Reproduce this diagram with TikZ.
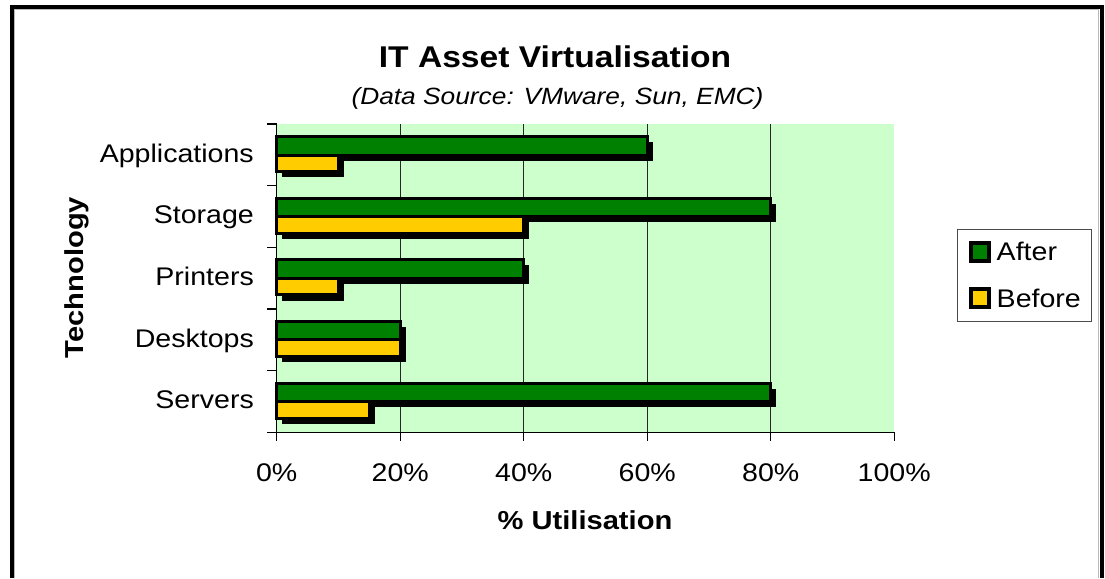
\documentclass[tikz,border=0pt]{standalone}
\usepackage{fontspec}
\setmainfont{Liberation Sans}[FakeStretch=1.12]
\definecolor{afterc}{RGB}{0,128,0}
\definecolor{beforec}{RGB}{255,204,0}
\definecolor{plotbg}{RGB}{204,255,204}
\tikzset{
  afterbar/.style={fill=afterc, draw=black, line width=3pt},
  beforebar/.style={fill=beforec, draw=black, line width=3pt},
  barshadow/.style={fill=black},
  gridline/.style={draw=black!85, line width=1.1pt},
  axisline/.style={draw=black, line width=1.3pt},
  ticklab/.style={inner sep=0pt, font=\fontsize{25.5}{30}\selectfont},
  catlab/.style={inner sep=0pt, anchor=base east, font=\fontsize{25.5}{30}\selectfont},
  axtitle/.style={inner sep=0pt, font=\bfseries\fontsize{26}{30}\selectfont},
  legsq/.style={line width=4pt, draw=black},
}
\begin{document}
\begin{tikzpicture}[x=1pt,y=-1pt]
\useasboundingbox[fill=white] (0,0) rectangle (1105,578);
% frame
\draw[gray!55, line width=1pt] (14.8,578) -- (14.8,9.8) -- (1098.6,9.8) -- (1098.6,578);
\draw[black, line width=4.5pt] (12,578) -- (12,7) -- (1101.8,7) -- (1101.8,578);
% title
\node[inner sep=0pt, anchor=base, font=\bfseries\fontsize{30}{34}\selectfont] (title) at (555,67.3) {IT Asset Virtualisation};
\node[inner sep=0pt, anchor=base, font=\itshape\fontsize{23.5}{28}\selectfont] (subtitle) at (557.5,104) {(Data Source: VMware, Sun, EMC)};
% plot area
\fill[plotbg] (276.7,124) rectangle (894,432.3);
\foreach \p in {20,40,60,80} {
  \draw[gridline] (276.7+6.175*\p,124) -- (276.7+6.175*\p,432.3);
}
% bars
\foreach \i/\a/\b in {0/60/10, 1/80/40, 2/40/10, 3/20/20, 4/80/15} {
  \pgfmathsetmacro\T{124+61.65*\i}
  \pgfmathsetmacro\xa{276.7+6.175*\a}
  \pgfmathsetmacro\xb{276.7+6.175*\b}
  \fill[barshadow] (282.2,\T+18) rectangle (\xa+5.5,\T+36.5);
  \draw[afterbar] (276.7,\T+12.5) rectangle (\xa,\T+31);
  \fill[barshadow] (282.2,\T+36.5) rectangle (\xb+5.5,\T+53.2);
  \draw[beforebar] (276.7,\T+31) rectangle (\xb,\T+47.5);
}
% axes
\draw[axisline] (276.7,124) -- (276.7,432.3);
\draw[axisline] (267,432.3) -- (894,432.3);
\foreach \i in {0,1,2,3,4} {
  \draw[axisline, line width=1.1pt] (267,124+61.65*\i) -- (276.7,124+61.65*\i);
}
\foreach \p in {0,20,40,60,80,100} {
  \draw[axisline, line width=1.1pt] (276.7+6.175*\p,432.3) -- (276.7+6.175*\p,441);
  \node[ticklab, anchor=base] (tick\p) at (276.7+6.175*\p,481.7) {\p\%};
}
% category labels
\node[catlab] (capps) at (254,162.3) {Applications};
\node[catlab] (cstor) at (254,223.9) {Storage};
\node[catlab] (cprin) at (254,285.5) {Printers};
\node[catlab] (cdesk) at (254,347.1) {Desktops};
\node[catlab] (cserv) at (254,408.7) {Servers};
% axis titles
\node[axtitle, anchor=base] (xtitle) at (585,529.3) {\% Utilisation};
\node[axtitle, anchor=base, rotate=90] (ytitle) at (83.3,277.5) {Technology};
% legend
\draw[black!70, line width=1pt] (957.3,229) rectangle (1091.7,321);
\draw[legsq, fill=afterc] (971.3,242.7) rectangle (988.7,260.7);
\draw[legsq, fill=beforec] (971.3,288.7) rectangle (988.7,307.3);
\node[catlab, anchor=base west] (lafter) at (996.5,260.7) {After};
\node[catlab, anchor=base west] (lbefore) at (996.5,307.3) {Before};
\end{tikzpicture}
\end{document}
